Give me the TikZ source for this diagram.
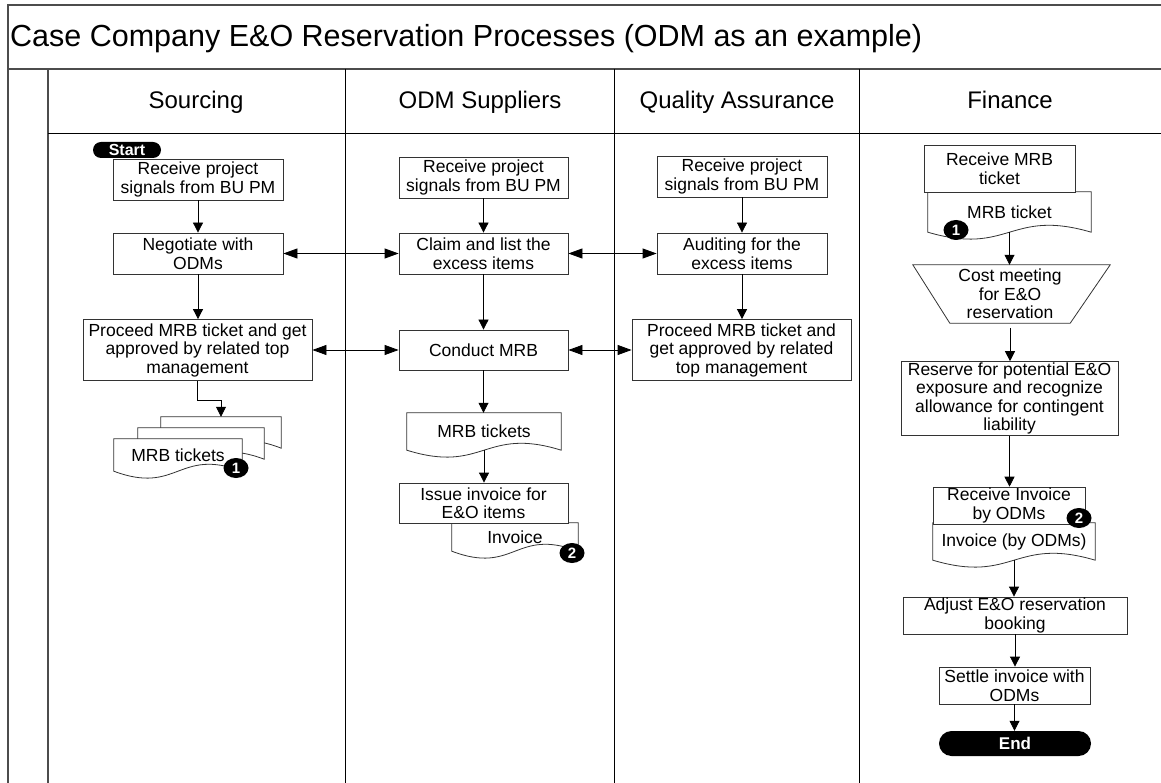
\documentclass[tikz,border=0pt]{standalone}
\usepackage{fontspec}
\setmainfont{Liberation Sans}
\usetikzlibrary{arrows.meta,calc,backgrounds,shapes.geometric}
\newcommand\bodyfont{\fontsize{17.5}{18.5}\selectfont}
\newcommand\docoutline[1]{\draw[docline] (#1.north west) -- (#1.north east) -- (#1.south east) .. controls ($(#1.south)+(0,-24)$) and ($(#1.south)+(0,24)$) .. (#1.south west) -- cycle;}
\tikzset{
  frameline/.style={draw=black!70, line width=1.6pt},
  lane/.style={draw=black, line width=0.8pt},
  box/.style={draw=black!80, line width=0.8pt, fill=white, align=center, inner sep=1pt, font=\bodyfont},
  docnode/.style={draw=none, align=center, inner sep=0pt, font=\bodyfont},
  docline/.style={draw=black!80, line width=0.8pt, fill=white},
  pill/.style={fill=black, text=white, inner sep=0pt, align=center},
  badge/.style={ellipse, fill=black, text=white, inner sep=0pt, minimum width=25, minimum height=20, font=\fontsize{15}{15}\selectfont\bfseries},
  hdr/.style={font=\fontsize{24}{28}\selectfont, anchor=base, inner sep=0pt},
  arr/.style={-{Triangle[length=10pt,width=10pt]}, line width=0.8pt},
  darr/.style={{Triangle[length=14pt,width=10pt]}-{Triangle[length=14pt,width=10pt]}, line width=0.8pt},
}
\begin{document}
\begin{tikzpicture}[x=1pt,y=-1pt]
\useasboundingbox (0,0) rectangle (1161,783);
% frame
\draw[frameline] (8,790) -- (8,5) -- (1170,5);
\draw[frameline] (8,69) -- (1170,69);
\draw[frameline] (48,69) -- (48,790);
\draw[lane] (48,133) -- (1170,133);
\draw[lane] (345,69) -- (345,790);
\draw[lane] (614,69) -- (614,790);
\draw[lane] (859,69) -- (859,790);
% title and headers
\node[anchor=base west, font=\fontsize{30.5}{36}\selectfont, inner sep=0pt] (title) at (10,47) {Case Company E\&O Reservation Processes (ODM as an example)};
\node[hdr] (hdS) at (196,109) {Sourcing};
\node[hdr] (hdO) at (480,109) {ODM Suppliers};
\node[hdr] (hdQ) at (737,109) {Quality Assurance};
\node[hdr] (hdF) at (1010,109) {Finance};

% Sourcing
\node[box, minimum width=170, minimum height=41] (recS) at (198,179.5) {Receive project\\signals from BU PM};
\node[pill, minimum width=68, minimum height=16, rounded corners=8pt, font=\fontsize{16}{16}\selectfont\bfseries] (startS) at (127,150) {Start};
\node[box, minimum width=170, minimum height=41] (negS) at (198,253.5) {Negotiate with\\ODMs};
\node[box, minimum width=229, minimum height=61] (proS) at (197.5,350) {Proceed MRB ticket and get\\approved by related top\\management};
\node[docnode, minimum width=120, minimum height=31] (mdA) at (221,432.5) {};
\node[docnode, minimum width=126, minimum height=31] (mdB) at (201,443.5) {};
\node[docnode, minimum width=128, minimum height=32] (mrbS) at (178,455) {MRB tickets};

% ODM suppliers
\node[box, minimum width=169, minimum height=41] (recO) at (483.5,177.5) {Receive project\\signals from BU PM};
\node[box, minimum width=169, minimum height=41] (claimO) at (483.5,253.5) {Claim and list the\\excess items};
\node[box, minimum width=169, minimum height=40] (condO) at (483.5,350) {Conduct MRB};
\node[docnode, minimum width=154, minimum height=37] (mrbO) at (484,431.5) {MRB tickets};
\node[box, minimum width=169, minimum height=40] (issueO) at (483.5,503) {Issue invoice for\\E\&O items};
\node[docnode, minimum width=126, minimum height=28] (invO) at (515,537) {Invoice};

% Quality assurance
\node[box, minimum width=170, minimum height=41] (recQ) at (742,176.5) {Receive project\\signals from BU PM};
\node[box, minimum width=170, minimum height=41] (audQ) at (742,253.5) {Auditing for the\\excess items};
\node[box, minimum width=219, minimum height=61] (proQ) at (741.5,350) {Proceed MRB ticket and\\get approved by related\\top management};

% Finance
\node[box, minimum width=151, minimum height=47] (recF) at (999.5,168.5) {Receive MRB\\ticket};
\node[docnode, minimum width=163, minimum height=40] (mrbF) at (1009.5,212) {MRB ticket};
\node[docnode, minimum width=120, minimum height=58] (costF) at (1010,294) {Cost meeting\\for E\&O\\reservation};
\node[box, minimum width=217, minimum height=73] (resF) at (1009.5,398.5) {Reserve for potential E\&O\\exposure and recognize\\allowance for contingent\\liability};
\node[box, minimum width=152, minimum height=35] (recInvF) at (1009,505.5) {Receive Invoice\\by ODMs};
\node[docnode, minimum width=162, minimum height=37] (invF) at (1014,541.5) {Invoice (by ODMs)};
\node[box, minimum width=224, minimum height=37] (adjF) at (1015,615.5) {Adjust E\&O reservation\\booking};
\node[box, minimum width=151, minimum height=37] (setF) at (1014.5,685.5) {Settle invoice with\\ODMs};
\node[pill, minimum width=152, minimum height=25, rounded corners=12.5pt, font=\fontsize{17}{17}\selectfont\bfseries] (endF) at (1015,743.5) {End};

% document outlines behind texts
\begin{scope}[on background layer]
\docoutline{mdA}
\docoutline{mdB}
\docoutline{mrbS}
\docoutline{mrbO}
\docoutline{invO}
\docoutline{mrbF}
\docoutline{invF}
\draw[docline] ($(costF.north west)+(-37,0)$) -- ($(costF.north east)+(40,0)$) -- (costF.south east) -- (costF.south west) -- cycle;
\end{scope}

% badges
\node[badge] (b1S) at (236,468) {1};
\node[badge] (b2O) at (572,553) {2};
\node[badge] (b1F) at (956,230) {1};
\node[badge] (b2F) at (1079,518) {2};

% connectors: sourcing
\draw[arr] (recS.south) -- (recS.south |- negS.north);
\draw[arr] (negS.south) -- (negS.south |- proS.north);
\draw[arr] (proS.south) -- ++(0,19) -| (mdA.north);
% ODM
\draw[arr] (recO.south) -- (recO.south |- claimO.north);
\draw[arr] (claimO.south) -- (claimO.south |- condO.north);
\draw[arr] (condO.south) -- (condO.south |- mrbO.north);
\draw[arr] (mrbO.south) -- (mrbO.south |- issueO.north);
% QA
\draw[arr] (recQ.south) -- (recQ.south |- audQ.north);
\draw[arr] (audQ.south) -- (audQ.south |- proQ.north);
% lateral
\draw[darr] (negS.east) -- (claimO.west);
\draw[darr] (claimO.east) -- (audQ.west);
\draw[darr] (proS.east) -- (condO.west);
\draw[darr] (condO.east) -- (proQ.west);
% Finance
\draw[arr] (mrbF.south) -- (mrbF.south |- costF.north);
\draw[arr, shorten <=5pt] (costF.south) -- (costF.south |- resF.north);
\draw[arr] (resF.south) -- (resF.south |- recInvF.north);
\draw[arr] (invF.south) -- (invF.south |- adjF.north);
\draw[arr] (adjF.south) -- (adjF.south |- setF.north);
\draw[arr] (setF.south) -- (setF.south |- endF.north);
\end{tikzpicture}
\end{document}
